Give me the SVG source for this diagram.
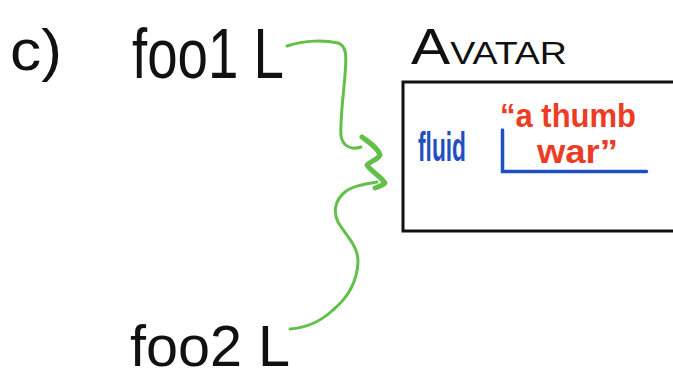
<svg xmlns="http://www.w3.org/2000/svg" width="673" height="381" viewBox="0 0 673 381">
<style>
.ink{font-family:"Liberation Sans","DejaVu Sans",sans-serif;fill:#111}
.blue{font-family:"Liberation Sans","DejaVu Sans",sans-serif;fill:#1f4fc0;font-weight:bold}
.red{font-family:"Liberation Sans","DejaVu Sans",sans-serif;fill:#ee3b25;font-weight:bold}
.green{fill:none;stroke:#62c04a;stroke-linecap:round;stroke-linejoin:round}
</style>
<rect width="673" height="381" fill="#fff"/>
<g id="label-c"><text class="ink" x="10" y="70" font-size="58" textLength="52" lengthAdjust="spacingAndGlyphs">c)</text></g>
<g id="foo1"><text class="ink" x="132" y="78" font-size="70" textLength="152" lengthAdjust="spacingAndGlyphs">foo1 L</text></g>
<g id="foo2"><text class="ink" x="130" y="366" font-size="58" textLength="160" lengthAdjust="spacingAndGlyphs">foo2 L</text></g>
<g id="avatar">
<text class="ink" x="411" y="64" font-size="50" textLength="156" lengthAdjust="spacingAndGlyphs">A<tspan font-size="32">VATAR</tspan></text>
<rect x="403" y="82" width="280" height="149" fill="none" stroke="#111" stroke-width="3"/>
<text class="blue" x="418" y="161" font-size="40" textLength="48" lengthAdjust="spacingAndGlyphs">fluid</text>
<path d="M502.5 130 V171.5 H646.5" fill="none" stroke="#1f4fc0" stroke-width="3.5" stroke-linecap="round"/>
<text class="red" x="500" y="127" font-size="34" textLength="136" lengthAdjust="spacingAndGlyphs">“a thumb</text>
<text class="red" x="537" y="163" font-size="34" textLength="81" lengthAdjust="spacingAndGlyphs">war”</text>
</g>
<g id="connectors">
<path class="green" stroke-width="3" d="M287 46 C305 40 325 40 338 43 C348 46 346 60 345 75 C343 100 340 120 341 136 C343 147 352 150 361 147"/>
<path class="green" stroke-width="5" d="M362 137 C370 143 378 148 380 155 C378 160 370 161 367 165 C372 172 380 176 385 183 C382 186 378 187 375 188"/>
<path class="green" stroke-width="3" d="M377 182 C365 184 352 186 345 192 C335 200 333 212 338 222 C346 236 358 245 358 262 C357 285 345 300 333 310 C320 322 305 328 290 329"/>
</g>
</svg>
